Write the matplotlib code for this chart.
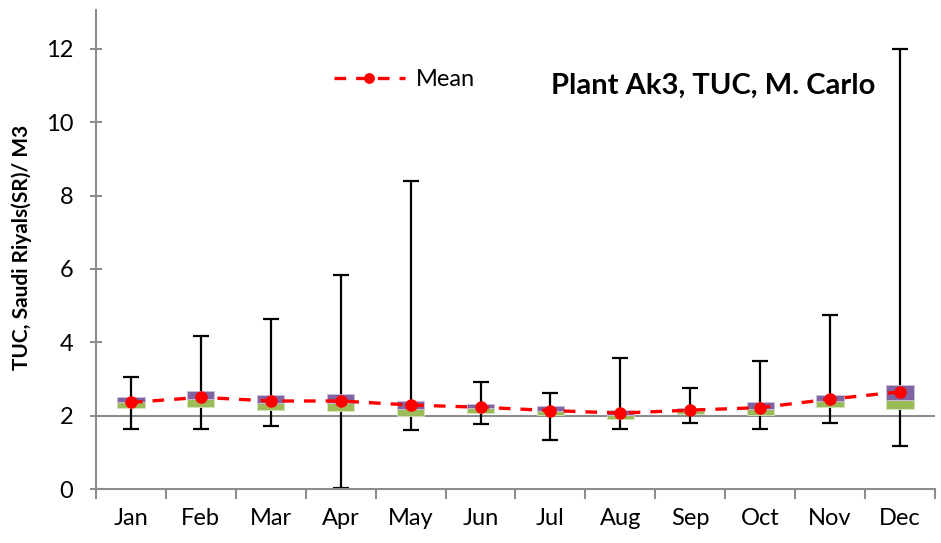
import matplotlib
matplotlib.use("Agg")
from matplotlib import pyplot as plt
import numpy as np

months = ["Jan", "Feb", "Mar", "Apr", "May", "Jun", "Jul", "Aug", "Sep", "Oct", "Nov", "Dec"]
q1 = [2.20, 2.23, 2.15, 2.14, 2.00, 2.08, 2.02, 1.91, 2.05, 2.02, 2.23, 2.19]
median = [2.37, 2.45, 2.35, 2.35, 2.17, 2.21, 2.14, 2.02, 2.13, 2.18, 2.39, 2.42]
q3 = [2.52, 2.68, 2.57, 2.58, 2.40, 2.32, 2.26, 2.15, 2.22, 2.36, 2.56, 2.84]
mean = [2.36, 2.50, 2.40, 2.40, 2.29, 2.23, 2.14, 2.07, 2.15, 2.22, 2.45, 2.65]
w_min = [1.65, 1.65, 1.73, 0.04, 1.60, 1.76, 1.35, 1.65, 1.79, 1.65, 1.80, 1.16]
w_max = [3.06, 4.17, 4.64, 5.84, 8.40, 2.91, 2.63, 3.57, 2.76, 3.49, 4.75, 12.0]

plt.rcParams['font.family'] = ['Lato', 'DejaVu Sans']
gray = "#8c8c8c"

fig = plt.figure(figsize=(9.41, 5.43), dpi=100)
ax = fig.add_axes([0.102, 0.0994, 0.8916, 0.8822])
x = np.arange(len(months))

ax.axhline(2, color=gray, lw=1.5, zorder=1)

# whiskers
ax.errorbar(x, median, yerr=[np.array(median) - np.array(w_min), np.array(w_max) - np.array(median)],
            fmt="none", ecolor="black", elinewidth=1.6, capsize=5.5, capthick=1.6, zorder=2)

# boxes: green lower part, purple upper part
lower = np.array(median) - np.array(q1)
upper = np.array(q3) - np.array(median)
ax.bar(x, lower, bottom=q1, width=0.39, color="#9BBB59", edgecolor="#d5e3bd", lw=0.6, zorder=3)
ax.bar(x, upper, bottom=median, width=0.39, color="#8064A2", edgecolor="#cbbfdb", lw=0.6, zorder=3)

ax.plot(x, mean, "--", color="red", lw=2.4, dashes=(3.5, 3), marker="o", markersize=8,
        label="Mean", zorder=4)

ax.set_xlim(-0.5, 11.5)
ax.set_ylim(0, 13.06)
ax.set_yticks(range(0, 13, 2))
ax.set_xticks(x)
ax.set_xticklabels(months)
ax.set_xticks(np.arange(-0.5, 12, 1), minor=True)
ax.tick_params(axis="x", which="major", length=0, labelsize=17, pad=14)
ax.tick_params(axis="x", which="minor", length=7, width=1.5, color=gray, direction="out")
ax.tick_params(axis="y", length=9, width=1.5, color=gray, direction="inout", labelsize=17, pad=12)

for s in ["top", "right"]:
    ax.spines[s].set_visible(False)
for s in ["left", "bottom"]:
    ax.spines[s].set_color(gray)
    ax.spines[s].set_linewidth(1.5)

ax.set_ylabel("TUC, Saudi Riyals(SR)/ M3", fontsize=15, fontweight="bold")
ax.yaxis.set_label_coords(-0.076, 0.505)

leg = ax.legend(loc="center left", bbox_to_anchor=(0.258, 0.854), frameon=False, fontsize=17,
                handlelength=3.0, handletextpad=0.5, markerscale=0.85)
ax.text(0.542, 0.841, "Plant Ak3, TUC, M. Carlo", transform=ax.transAxes,
        fontsize=21, fontweight="bold", va="center", ha="left")

fig.savefig("out.png", dpi=100)
